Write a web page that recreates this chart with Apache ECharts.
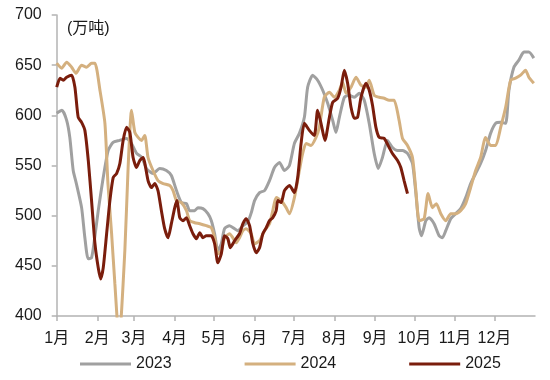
<!DOCTYPE html>
<html>
<head>
<meta charset="utf-8">
<script src="https://cdn.jsdelivr.net/npm/echarts@6/dist/echarts.min.js"></script>
<style>
html,body{margin:0;padding:0;background:#fff;}
#chart{width:550px;height:380px;}
</style>
</head>
<body>
<div id="chart"></div>
<script>
// Month tick positions (day of year) and labels
const monthStarts = [0,31,59,90,120,151,181,212,243,273,304,334];
const monthLabels = ['1月','2月','3月','4月','5月','6月','7月','8月','9月','10月','11月','12月'];
const yTicks = [400,450,500,550,600,650,700];
const unitLabel = '(万吨)';
const seriesNames = ['2023','2024','2025'];

// 2023 (day of year, value)
const days2023 = [0,4,7.6,10,12.6,15,19,21.5,24,26.6,29,31.7,35.5,39.3,43,48,53,57,61,65,68.5,73.5,78.6,83.7,87.5,91.4,95.2,99,101.5,105.3,107.8,111.6,115.4,118,120.5,123,125.6,128.1,131.9,135.8,138.2,142.1,145.9,148.5,151,154.8,158.6,162.4,166.2,170,173.8,177.6,181.4,185.2,189,191.5,195.3,199.1,203,206.8,210.6,213.1,215.7,219.5,223.3,227.1,230.9,234.7,238.5,242.3,245.4,248.6,252.4,256.2,260.1,263.9,267.7,271.5,274.1,276.6,278.4,281.7,284.2,288,291.8,294.3,296.9,300.7,304.5,308.3,312.1,315.9,319.7,323.5,327.3,331.1,335,338.8,342.6,345.1,348.9,352.7,356.5,360.3,364.1];
const vals2023 = [602,605,595,578,545,532,508,478,457,458,478,505,538,565,573,575,577,572,562,558,547,542,547,545,540,525,513,512,505,505,508,507,502,495,482,465,472,487,490,487,485,490,494,503,515,523,525,535,548,553,545,550,572,582,598,628,640,635,625,612,595,583,598,618,620,618,622,615,592,562,547,558,575,568,565,565,562,552,522,488,480,495,498,492,480,478,485,497,502,507,518,532,542,552,565,582,592,593,592,625,648,655,663,663,657];

// 2024
const days2024 = [0,3.8,7.6,11.4,14.7,19,22.8,26.6,29.2,33,36.8,39.1,41.9,44.4,47.6,52,54.5,57.1,59.6,62.1,64.7,67.2,69.7,73.5,77.3,81.2,86.3,88.8,91.4,95.2,99,101.5,105.3,109.2,114.2,118,120.5,123,125.6,128.1,131.9,134.4,137,139.5,142.1,144.6,148.4,151,154.8,158.6,162.4,164.9,167.5,171.3,175.1,177.6,181.4,185.2,187.7,190.3,194.1,197.9,200.4,204.2,208.1,211.9,215.7,218.2,220.8,224.6,228.4,232.2,236,238.5,242.3,246.1,249.9,253.7,257.5,261.3,263.9,267.7,271.5,274.1,276.6,280.4,283.4,286.7,289.7,293.1,296.9,300.7,304.5,308.3,312.1,315.9,319.7,323.5,327.3,331.1,335,338.8,342.6,346.4,350.2,354,357.8,360.3,364.1];
const vals2024 = [652,647,653,648,642,650,648,652,652,625,592,532,482,432,375,465,548,605,583,578,575,580,558,545,535,532,530,525,515,513,505,495,493,492,490,488,478,462,465,478,482,478,473,478,485,487,482,472,475,485,492,505,518,515,508,502,518,545,562,572,570,578,588,618,623,618,625,633,622,628,638,630,628,635,620,618,617,615,615,595,577,570,558,525,495,497,522,508,512,502,495,502,502,505,512,528,545,558,578,570,570,588,608,635,637,640,645,638,632];

// 2025
const days2025 = [0,2.5,5,7.6,11.4,13.9,16.4,19,21.5,24.1,26.6,29.2,31.7,33.5,35.5,38.1,40.6,43.1,45.7,48.2,50.7,53.3,55.8,58.3,60.9,63.4,65.9,69.7,72.3,74.8,77.3,79.9,82.4,85,87.5,90.1,91.8,93.9,96.4,99,101.5,104,106.6,109.2,111.6,114.2,118,120.5,123,125.6,128.1,130.6,132.5,135.8,139.5,142.1,144.6,147.2,149.7,152.3,154.8,157.3,159.9,162.4,164.9,167.5,168.7,171.3,173.8,177.6,181.4,183.9,186.5,189,192.8,196.6,199.1,201.7,204.7,208.1,210.6,214.4,217,219.5,222,224.6,227.1,229.6,232.2,236,238.5,241,243.6,246.1,249.9,253.7,256.2,260.1,262.6,265.1,267.7];
const vals2025 = [628,637,635,638,640,628,598,593,585,555,515,472,448,437,448,482,515,538,542,552,575,588,583,558,548,555,558,535,528,532,525,505,487,478,492,508,515,498,495,498,490,482,477,483,478,480,480,472,453,462,480,477,468,475,482,492,497,490,472,463,468,482,488,495,498,505,515,513,525,530,523,538,572,592,585,580,605,592,575,598,613,617,628,645,632,608,597,598,618,632,625,610,588,578,577,568,562,555,548,535,522];

const colors = ['#a0a0a0','#d4b07f','#7a1d0c'];
const FONT = "'Liberation Sans','Noto Sans CJK SC',sans-serif";

function pairs(d, v){ return d.map((x,i)=>[x, v[i]]); }

const chart = echarts.init(document.getElementById('chart'), null, {renderer:'canvas'});
chart.setOption({
  animation:false,
  backgroundColor:'#ffffff',
  textStyle:{fontFamily:FONT},
  title:{text:unitLabel,left:62,top:16,textStyle:{fontSize:16,fontWeight:'normal',color:'#1a1a1a',fontFamily:FONT}},
  grid:{left:56.7,right:15,top:15,bottom:64,containLabel:false},
  legend:{
    data:seriesNames,left:75,top:351,itemWidth:51,itemHeight:3,itemGap:73,icon:'rect',
    textStyle:{fontSize:16,color:'#1a1a1a',fontFamily:FONT}
  },
  xAxis:{
    type:'value',min:0,max:365,
    splitLine:{show:false},
    axisLine:{lineStyle:{color:'#b3b3b3',width:1.5}},
    axisTick:{show:true,length:5,lineStyle:{color:'#b3b3b3',width:1.5},customValues:monthStarts},
    axisLabel:{customValues:monthStarts,fontSize:16,color:'#1a1a1a',margin:15,fontFamily:FONT,
      formatter:function(v){const i=monthStarts.indexOf(Math.round(v));return i>=0?monthLabels[i]:'';}}
  },
  yAxis:{
    type:'value',min:yTicks[0],max:yTicks[yTicks.length-1],interval:50,
    splitLine:{show:false},
    axisLine:{show:true,lineStyle:{color:'#b3b3b3',width:1.5}},
    axisTick:{show:true,length:5,lineStyle:{color:'#b3b3b3',width:1.5}},
    axisLabel:{fontSize:16,color:'#1a1a1a',margin:15,fontFamily:FONT}
  },
  series:[
    {name:seriesNames[0],type:'line',data:pairs(days2023,vals2023),smooth:0.2,showSymbol:false,symbol:'none',lineStyle:{width:3,color:colors[0]},itemStyle:{color:colors[0]},z:2},
    {name:seriesNames[1],type:'line',data:pairs(days2024,vals2024),smooth:0.2,showSymbol:false,symbol:'none',lineStyle:{width:3,color:colors[1]},itemStyle:{color:colors[1]},z:3},
    {name:seriesNames[2],type:'line',data:pairs(days2025,vals2025),smooth:0.2,showSymbol:false,symbol:'none',lineStyle:{width:3,color:colors[2]},itemStyle:{color:colors[2]},z:4}
  ]
});
</script>
</body>
</html>
